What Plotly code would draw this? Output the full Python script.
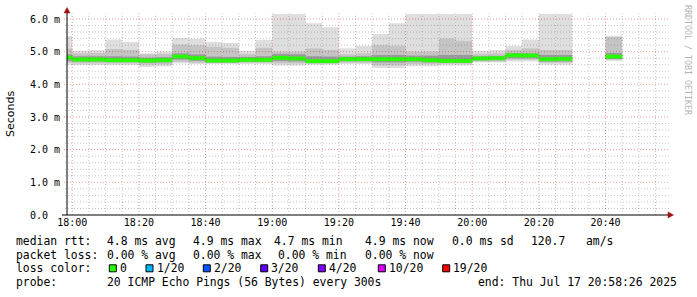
import plotly.graph_objects as go

# ---------------- data ----------------
interval_start = [
    "2025-07-17 17:55", "2025-07-17 18:00", "2025-07-17 18:05", "2025-07-17 18:10",
    "2025-07-17 18:15", "2025-07-17 18:20", "2025-07-17 18:25", "2025-07-17 18:30",
    "2025-07-17 18:35", "2025-07-17 18:40", "2025-07-17 18:45", "2025-07-17 18:50",
    "2025-07-17 18:55", "2025-07-17 19:00", "2025-07-17 19:05", "2025-07-17 19:10",
    "2025-07-17 19:15", "2025-07-17 19:20", "2025-07-17 19:25", "2025-07-17 19:30",
    "2025-07-17 19:35", "2025-07-17 19:40", "2025-07-17 19:45", "2025-07-17 19:50",
    "2025-07-17 19:55", "2025-07-17 20:00", "2025-07-17 20:05", "2025-07-17 20:10",
    "2025-07-17 20:15", "2025-07-17 20:20", "2025-07-17 20:25", "2025-07-17 20:40",
]
# values in milliseconds
smoke_max = [5.48, 5.03, 5.05, 5.37, 5.30, 4.95, 5.00, 5.42, 5.40, 5.30, 5.27, 5.02, 5.36,
             6.20, 6.20, 5.87, 5.75, 5.10, 5.18, 5.54, 5.87, 6.20, 6.20, 6.20, 6.20,
             5.02, 5.05, 5.18, 5.37, 6.20, 6.20, 5.49]
smoke_hi = [5.10, 4.95, 4.96, 5.08, 5.05, 4.92, 4.93, 5.22, 5.20, 5.15, 5.12, 4.93, 5.12,
            5.00, 5.00, 5.10, 5.05, 4.92, 4.95, 5.20, 5.18, 5.00, 5.00, 5.40, 5.33,
            4.93, 4.95, 5.05, 5.10, 5.05, 5.05, 5.45]
dark_hi = [4.92, 4.86, 4.86, 4.86, 4.85, 4.82, 4.83, 4.95, 4.92, 4.85, 4.84, 4.84, 4.86,
           4.93, 4.92, 4.86, 4.85, 4.85, 4.86, 4.90, 4.90, 4.88, 4.88, 4.90, 4.90,
           4.86, 4.87, 4.95, 4.95, 4.90, 4.90, 4.96]
median = [4.82, 4.76, 4.76, 4.74, 4.74, 4.73, 4.74, 4.85, 4.80, 4.73, 4.73, 4.75, 4.75,
          4.81, 4.79, 4.71, 4.71, 4.77, 4.77, 4.77, 4.77, 4.77, 4.74, 4.72, 4.72,
          4.79, 4.80, 4.89, 4.88, 4.77, 4.78, 4.85]
dark_lo = [4.72, 4.70, 4.70, 4.68, 4.68, 4.66, 4.67, 4.76, 4.72, 4.67, 4.67, 4.69, 4.69,
           4.71, 4.70, 4.66, 4.66, 4.71, 4.71, 4.67, 4.67, 4.69, 4.67, 4.66, 4.66,
           4.74, 4.74, 4.80, 4.80, 4.70, 4.70, 4.78]
smoke_lo = [4.66, 4.64, 4.64, 4.64, 4.64, 4.60, 4.61, 4.69, 4.66, 4.65, 4.65, 4.66, 4.66,
            4.64, 4.64, 4.63, 4.63, 4.66, 4.66, 4.58, 4.58, 4.62, 4.62, 4.63, 4.63,
            4.70, 4.70, 4.75, 4.75, 4.66, 4.66, 4.75]
smoke_min = [4.60, 4.59, 4.59, 4.59, 4.59, 4.53, 4.55, 4.64, 4.62, 4.62, 4.62, 4.62, 4.62,
             4.58, 4.58, 4.60, 4.60, 4.62, 4.62, 4.50, 4.50, 4.55, 4.55, 4.58, 4.58,
             4.67, 4.67, 4.70, 4.70, 4.60, 4.60, 4.72]

x_tick_vals = ["2025-07-17 18:00", "2025-07-17 18:20", "2025-07-17 18:40", "2025-07-17 19:00",
               "2025-07-17 19:20", "2025-07-17 19:40", "2025-07-17 20:00", "2025-07-17 20:20",
               "2025-07-17 20:40"]
x_tick_text = ["18:00", "18:20", "18:40", "19:00", "19:20", "19:40", "20:00", "20:20", "20:40"]
y_tick_vals = [0, 1, 2, 3, 4, 5, 6]
y_tick_text = ["0.0\u00a0\u00a0", "1.0 m", "2.0 m", "3.0 m", "4.0 m", "5.0 m", "6.0 m"]

legend_rows = [
    [("median rtt:", 16), ("4.8 ms avg", 107), ("4.9 ms max", 193), ("4.7 ms min", 274),
     ("4.9 ms now", 365), ("0.0 ms sd", 451.7), ("120.7", 530.7), ("am/s", 586)],
    [("packet loss:", 16), ("0.00 % avg", 107), ("0.00 % max", 193), ("0.00 % min", 278),
     ("0.00 % now", 365)],
    [("loss color:", 16)],
    [("probe:", 16), ("20 ICMP Echo Pings (56 Bytes) every 300s", 107),
     ("end: Thu Jul 17 20:58:26 2025", 478.3)],
]
row_y = [240.7, 255.0, 268.3, 282.3]
loss_labels = ["0", "1/20", "2/20", "3/20", "4/20", "10/20", "19/20"]
loss_colors = ["#26ff00", "#00b8ff", "#0059ff", "#5e00ff", "#7e00ff", "#dd00ff", "#ff0000"]
loss_square_x = [109.3, 146.0, 203.3, 260.7, 318.3, 378.3, 442.7]

# ---------------- layout geometry ----------------
W, H = 697, 297
L, R, T, B = 67, 30, 14, 82
PW, PH = W - L - R, H - T - B
MONO = "DejaVu Sans Mono"


def px2x(px):
    return (px - L) / PW


def py2y(py):
    return (T + PH - py) / PH


STEP_MS = 300000
fig = go.Figure()


def band(lo, hi, color):
    fig.add_trace(go.Bar(
        x=interval_start, base=lo, y=[h - l for l, h in zip(lo, hi)],
        width=STEP_MS, offset=0, marker=dict(color=color, line=dict(width=0)),
        hoverinfo="skip", showlegend=False))


band(smoke_min, smoke_max, "#dedede")
band(smoke_lo, smoke_hi, "#c4c4c4")
band(dark_lo, dark_hi, "#9a9a9a")
# median drawn as a thin band in the loss colour
fig.add_trace(go.Bar(
    x=interval_start, base=[m - 0.06 for m in median], y=[0.12] * len(median),
    width=STEP_MS, offset=0, marker=dict(color=loss_colors[0], line=dict(width=0)),
    hoverinfo="skip", showlegend=False))

shapes = []
# grid (drawn above the data like rrdtool)
import datetime as _dt
t0 = _dt.datetime(2025, 7, 17, 18, 0)
for k in range(36):
    t = t0 + _dt.timedelta(minutes=5 * k)
    major = (k % 4 == 0)
    shapes.append(dict(type="line", xref="x", yref="paper", x0=t, x1=t, y0=0, y1=1.003,
                       line=dict(color="rgba(200,0,0,0.38)" if major else "rgba(90,90,90,0.35)",
                                 width=1, dash="1px,2px"), layer="above"))
for k in range(1, 31):
    v = 0.2 * k
    major = (k % 5 == 0)
    shapes.append(dict(type="line", xref="paper", yref="y", x0=px2x(64 if major else 65), x1=px2x(669),
                       y0=v, y1=v,
                       line=dict(color="rgba(200,0,0,0.38)" if major else "rgba(90,90,90,0.35)",
                                 width=1, dash="1px,2px"), layer="above"))
# axes
shapes.append(dict(type="line", xref="paper", yref="paper", x0=px2x(62), x1=px2x(669),
                   y0=py2y(215), y1=py2y(215), line=dict(color="#000", width=1), layer="above"))
shapes.append(dict(type="line", xref="paper", yref="paper", x0=px2x(67), x1=px2x(67),
                   y0=py2y(215), y1=py2y(12), line=dict(color="#000", width=1), layer="above"))
ax_col = "#a01010"
shapes.append(dict(type="path", xref="paper", yref="paper",
                   path=f"M {px2x(64)} {py2y(13)} L {px2x(70)} {py2y(13)} L {px2x(67)} {py2y(7.5)} Z",
                   fillcolor=ax_col, line=dict(color=ax_col, width=0.5), layer="above"))
shapes.append(dict(type="path", xref="paper", yref="paper",
                   path=f"M {px2x(668)} {py2y(212)} L {px2x(668)} {py2y(218)} L {px2x(673.5)} {py2y(215)} Z",
                   fillcolor=ax_col, line=dict(color=ax_col, width=0.5), layer="above"))

annotations = []
for row, yy in zip(legend_rows, row_y):
    for txt, xx in row:
        annotations.append(dict(text=txt, x=px2x(xx), y=py2y(yy), xref="paper", yref="paper",
                                xanchor="left", yanchor="middle", showarrow=False,
                                borderpad=0, borderwidth=0,
                                font=dict(family=MONO, size=11.4, color="#000")))
for lbl, col, sx in zip(loss_labels, loss_colors, loss_square_x):
    shapes.append(dict(type="rect", xref="paper", yref="paper",
                       x0=px2x(sx), x1=px2x(sx + 7), y0=py2y(271.8), y1=py2y(264.8),
                       fillcolor=col, line=dict(color="#000", width=1)))
    annotations.append(dict(text=lbl, x=px2x(sx + 10.5), y=py2y(row_y[2]), xref="paper", yref="paper",
                            xanchor="left", yanchor="middle", showarrow=False,
                            borderpad=0, borderwidth=0,
                            font=dict(family=MONO, size=11.4, color="#000")))
annotations.append(dict(text="Seconds", x=px2x(11), y=py2y(114), xref="paper", yref="paper",
                        xanchor="center", yanchor="middle", showarrow=False, textangle=-90,
                        font=dict(family="DejaVu Sans", size=11, color="#000")))
annotations.append(dict(text="RRDTOOL / TOBI OETIKER", x=px2x(688), y=py2y(60), xref="paper",
                        yref="paper", xanchor="center", yanchor="middle", showarrow=False,
                        textangle=90, font=dict(family=MONO, size=8.3, color="#b4b4b4")))

fig.update_layout(
    width=W, height=H, margin=dict(l=L, r=R, t=T, b=B, pad=0),
    paper_bgcolor="#ffffff", plot_bgcolor="#ffffff",
    barmode="overlay", showlegend=False,
    shapes=shapes, annotations=annotations,
    xaxis=dict(type="date", range=["2025-07-17 17:58:26", "2025-07-17 20:58:26"],
               tickvals=x_tick_vals, ticktext=x_tick_text, showgrid=False, zeroline=False,
               showline=False, ticks="", tickfont=dict(family=MONO, size=10, color="#000"),
               fixedrange=True),
    yaxis=dict(range=[0, 6.153], tickvals=y_tick_vals, ticktext=y_tick_text, showgrid=False,
               zeroline=False, showline=False, ticks="", ticklabelstandoff=6,
               tickfont=dict(family=MONO, size=10, color="#000"), fixedrange=True),
)

fig.write_html("out.html", config={"displayModeBar": False})
